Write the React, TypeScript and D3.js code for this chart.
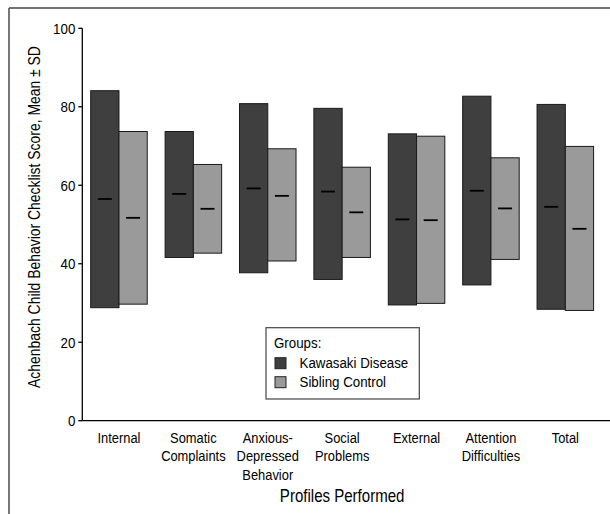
import React from "react";
import * as d3 from "d3";

const categories = [
  ["Internal"],
  ["Somatic", "Complaints"],
  ["Anxious-", "Depressed", "Behavior"],
  ["Social", "Problems"],
  ["External"],
  ["Attention", "Difficulties"],
  ["Total"],
];

const groups = ["Kawasaki Disease", "Sibling Control"];

// mean, lower (mean - SD), upper (mean + SD)
const kawasakiMean = [56.5, 57.8, 59.2, 58.4, 51.3, 58.6, 54.5];
const kawasakiLow = [28.8, 41.6, 37.7, 36.0, 29.5, 34.6, 28.4];
const kawasakiHigh = [84.1, 73.7, 80.8, 79.6, 73.1, 82.7, 80.6];

const siblingMean = [51.7, 54.0, 57.3, 53.1, 51.1, 54.1, 48.9];
const siblingLow = [29.7, 42.7, 40.7, 41.6, 29.9, 41.1, 28.1];
const siblingHigh = [73.7, 65.3, 69.3, 64.6, 72.5, 67.0, 69.9];

const yTicks = [0, 20, 40, 60, 80, 100];

const colors = ["#3f3f3f", "#9a9a9a"];
const font = "'Liberation Sans', Arial, sans-serif";
const SX = 0.86; // squeeze text to look like a condensed face

const W = 610;
const H = 514;
const left = 82.3;
const right = 602;
const top = 28.3;
const bottom = 420.7;

// text drawn narrower, anchored at (x, y)
function NText({ x, y, size, anchor = "start", dy, children }: any) {
  return (
    <text
      transform={`translate(${x},${y}) scale(${SX},1)`}
      fontSize={size}
      textAnchor={anchor}
      dy={dy}
    >
      {children}
    </text>
  );
}

export default function App() {
  const keys = categories.map(c => c.join(" "));
  const x = d3.scaleBand<string>().domain(keys).range([left, right]).paddingInner(0.24).paddingOuter(0.113);
  const xg = d3.scaleBand<string>().domain(groups).range([0, x.bandwidth()]);
  const y = d3.scaleLinear().domain([0, 100]).range([bottom, top]);

  const series = [
    { name: groups[0], mean: kawasakiMean, low: kawasakiLow, high: kawasakiHigh },
    { name: groups[1], mean: siblingMean, low: siblingLow, high: siblingHigh },
  ];

  return (
    <svg width={W} height={H} style={{ position: "absolute", left: 0, top: 0 }} fontFamily={font}>
      <rect width={W} height={H} fill="#fff" />
      {/* frame */}
      <line x1={9} x2={W} y1={8} y2={8} stroke="#444" strokeWidth={1.6} />
      <line x1={9} x2={9} y1={8} y2={H} stroke="#555" strokeWidth={1.6} />

      {/* bars */}
      {series.map((s, si) =>
        keys.map((k, i) => {
          const bx = (x(k) ?? 0) + (xg(s.name) ?? 0);
          const bw = xg.bandwidth();
          return (
            <g key={`${si}-${i}`}>
              <rect
                x={bx}
                y={y(s.high[i])}
                width={bw}
                height={y(s.low[i]) - y(s.high[i])}
                fill={colors[si]}
                stroke="#1a1a1a"
                strokeWidth={1}
              />
              <line
                x1={bx + bw / 2 - 7}
                x2={bx + bw / 2 + 7}
                y1={y(s.mean[i])}
                y2={y(s.mean[i])}
                stroke="#000"
                strokeWidth={1.8}
              />
            </g>
          );
        })
      )}

      {/* y axis */}
      <line x1={left} x2={left} y1={y(100)} y2={y(0)} stroke="#000" strokeWidth={1.3} />
      {yTicks.map(t => (
        <g key={t}>
          <line x1={left - 4} x2={left} y1={y(t)} y2={y(t)} stroke="#000" strokeWidth={1.3} />
          <NText x={left - 7} y={y(t)} dy="0.36em" anchor="end" size={15.5}>
            {t}
          </NText>
        </g>
      ))}
      <text
        transform={`translate(40,217) rotate(-90) scale(${SX},1)`}
        textAnchor="middle"
        fontSize={16.2}
      >
        Achenbach Child Behavior Checklist Score, Mean ± SD
      </text>

      {/* x axis */}
      <line x1={left} x2={W} y1={y(0)} y2={y(0)} stroke="#000" strokeWidth={1.3} />
      {categories.map((lines, i) => {
        const cx = (x(keys[i]) ?? 0) + x.bandwidth() / 2;
        return lines.map((l, j) => (
          <NText key={`${i}-${j}`} x={cx} y={442.7 + j * 18.6} anchor="middle" size={15}>
            {l}
          </NText>
        ));
      })}
      <NText x={(left + right) / 2} y={501.7} anchor="middle" size={17.5}>
        Profiles Performed
      </NText>

      {/* legend */}
      <g transform="translate(266,327.7)">
        <rect width={153.3} height={71.3} fill="#fff" stroke="#444" strokeWidth={1.2} />
        <NText x={8} y={20.5} size={15.5}>
          Groups:
        </NText>
        {groups.map((g, i) => (
          <g key={g} transform={`translate(9,${30 + i * 19})`}>
            <rect width={11} height={11} fill={colors[i]} stroke="#222" strokeWidth={1} />
            <NText x={24.5} y={10} size={15.5}>
              {g}
            </NText>
          </g>
        ))}
      </g>
    </svg>
  );
}
